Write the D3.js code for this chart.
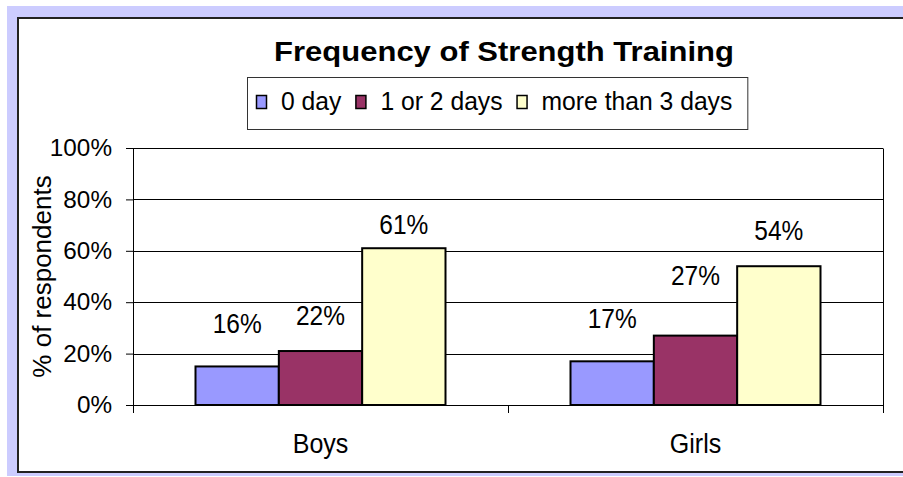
<!DOCTYPE html>
<html>
<head>
<meta charset="utf-8">
<script src="https://cdn.jsdelivr.net/npm/d3@7"></script>
<style>
  body { margin: 0; background: #fff; }
  svg { display: block; font-family: 'Liberation Sans', Arial, sans-serif; }
</style>
</head>
<body>
<div id="chart"></div>
<script>
// categories and series
const groups = ['Boys', 'Girls'];
const series = ['0 day', '1 or 2 days', 'more than 3 days'];
const colors = ['#9999ff', '#993366', '#ffffcc'];
// bar heights (percent)
const boysValues = [15, 21, 61];
const girlsValues = [17, 27, 54];
// data labels as printed on the chart
const boysLabels = ['16%', '22%', '61%'];
const girlsLabels = ['17%', '27%', '54%'];
// level (percent) where each label was dragged to
const boysLabelLevel = [28, 31, 66.4];
const girlsLabelLevel = [30, 46.7, 64.2];
const yTicks = [0, 20, 40, 60, 80, 100];

const width = 903;
const height = 477;
const margin = { top: 148, right: 20, bottom: 72, left: 133 };
const plotW = width - margin.left - margin.right;
const plotH = height - margin.top - margin.bottom;

const values = [boysValues, girlsValues];
const labels = [boysLabels, girlsLabels];
const levels = [boysLabelLevel, girlsLabelLevel];

const rows = [];
groups.forEach((g, gi) => {
  series.forEach((s, si) => {
    rows.push({ group: g, series: s, si, value: values[gi][si], label: labels[gi][si], level: levels[gi][si] });
  });
});

// the source picture is a bit taller than wide, so text is stretched
function place(x, y, sy) {
  return `translate(${x},${y}) scale(1,${sy})`;
}

const svg = d3.select('#chart').append('svg')
  .attr('width', width)
  .attr('height', height);

// frame
svg.append('rect')
  .attr('x', 7).attr('y', 6)
  .attr('width', 900).attr('height', 470)
  .attr('fill', '#ccccff');
svg.append('rect')
  .attr('x', 18).attr('y', 18)
  .attr('width', 900).attr('height', 454)
  .attr('fill', '#fff')
  .attr('stroke', '#222')
  .attr('stroke-width', 2);

// title
svg.append('text')
  .attr('transform', place(504, 60.5, 0.9))
  .attr('text-anchor', 'middle')
  .style('font-size', '31px')
  .style('font-weight', 'bold')
  .text('Frequency of Strength Training');

const g = svg.append('g')
  .attr('transform', `translate(${margin.left},${margin.top})`);

// scales
const x0 = d3.scaleBand().domain(groups).range([0, plotW]).paddingInner(0).paddingOuter(0);
const x1 = d3.scaleBand().domain(series).range([0, x0.bandwidth()]).paddingOuter(0.75).paddingInner(0);
const y = d3.scaleLinear().domain([0, 100]).range([plotH, 0]);

// gridlines
g.append('g')
  .selectAll('line')
  .data(yTicks.filter((d) => d > 0))
  .join('line')
  .attr('x1', 0).attr('x2', plotW)
  .attr('y1', (d) => Math.round(y(d)) + 0.5)
  .attr('y2', (d) => Math.round(y(d)) + 0.5)
  .attr('stroke', '#000');

// right border of plot
g.append('line')
  .attr('x1', plotW + 0.5).attr('x2', plotW + 0.5)
  .attr('y1', Math.round(y(100)) + 0.5).attr('y2', plotH)
  .attr('stroke', '#000');

// bars
g.append('g')
  .selectAll('rect')
  .data(rows)
  .join('rect')
  .attr('x', (d) => x0(d.group) + x1(d.series))
  .attr('y', (d) => y(d.value))
  .attr('width', x1.bandwidth())
  .attr('height', (d) => plotH - y(d.value))
  .attr('fill', (d) => colors[d.si])
  .attr('stroke', '#000')
  .attr('stroke-width', 2);

// value labels
g.append('g')
  .selectAll('text')
  .data(rows)
  .join('text')
  .attr('transform', (d) => place(x0(d.group) + x1(d.series) + x1.bandwidth() / 2, y(d.level), 1.1))
  .attr('text-anchor', 'middle')
  .style('font-size', '24.5px')
  .text((d) => d.label);

// y axis
const yAxis = d3.axisLeft(y)
  .tickValues(yTicks)
  .tickSize(7)
  .tickPadding(14)
  .tickFormat((d) => d + '%');
const yg = g.append('g').attr('class', 'y axis').call(yAxis);
yg.select('.domain').attr('d', `M0.5,${y(100)}V${plotH + 7}`).attr('stroke', '#000');
yg.selectAll('.tick line').attr('stroke', '#000');
yg.selectAll('text')
  .style('font-size', '24.3px')
  .style('font-family', "'Liberation Sans', Arial, sans-serif")
  .attr('fill', '#000');

// x axis
const xAxis = d3.axisBottom(x0).tickSize(0).tickPadding(0);
const xg = g.append('g')
  .attr('class', 'x axis')
  .attr('transform', `translate(0,${plotH})`)
  .call(xAxis);
xg.select('.domain').attr('d', `M0,0.5H${plotW + 1}`).attr('stroke', '#000');
xg.selectAll('text')
  .attr('y', 0)
  .attr('dy', null)
  .attr('transform', place(0, 48, 1.08))
  .style('font-size', '25px')
  .style('font-family', "'Liberation Sans', Arial, sans-serif")
  .attr('fill', '#000');
// category separators
xg.append('g')
  .selectAll('line')
  .data([0, plotW / 2, plotW])
  .join('line')
  .attr('x1', (d) => d + 0.5).attr('x2', (d) => d + 0.5)
  .attr('y1', 0).attr('y2', 8)
  .attr('stroke', '#000');

// y axis title
svg.append('text')
  .attr('transform', `translate(51,${margin.top + plotH / 2}) rotate(-90)`)
  .attr('text-anchor', 'middle')
  .style('font-size', '26px')
  .text('% of respondents');

// legend
const legend = svg.append('g');
const legendBox = legend.append('rect')
  .attr('y', 77.5)
  .attr('height', 52)
  .attr('fill', '#fff')
  .attr('stroke', '#333');
let lx = 256;
series.forEach((s, i) => {
  const item = legend.append('g');
  item.append('rect')
    .attr('x', lx + 0.5).attr('y', 95.5)
    .attr('width', 10).attr('height', 13)
    .attr('fill', colors[i])
    .attr('stroke', '#000')
    .attr('stroke-width', 1.5);
  const t = item.append('text')
    .attr('transform', place(lx + 25, 110, 1.04))
    .style('font-size', '24.7px')
    .text(s);
  const w = t.node().getComputedTextLength();
  lx += 25 + w + 14;
});
legendBox.attr('x', 247.5).attr('width', lx - 14 + 15 - 247);
</script>
</body>
</html>
